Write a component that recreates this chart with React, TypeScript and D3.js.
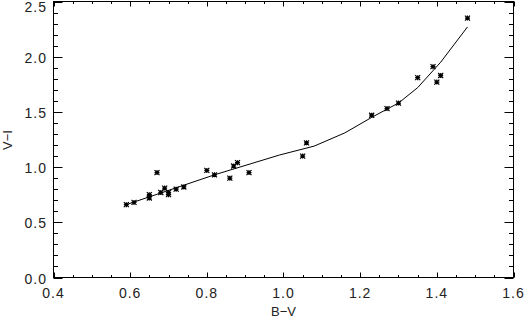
import React, { useEffect, useRef } from "react";
import * as d3 from "d3";

// observed colours (B-V, V-I)
const bv = [0.59, 0.61, 0.65, 0.65, 0.67, 0.68, 0.69, 0.70, 0.70, 0.72, 0.74, 0.80, 0.82, 0.86, 0.87, 0.88, 0.91, 1.05, 1.06, 1.23, 1.27, 1.30, 1.35, 1.39, 1.40, 1.41, 1.48];
const vi = [0.66, 0.68, 0.72, 0.75, 0.95, 0.77, 0.81, 0.75, 0.77, 0.80, 0.82, 0.97, 0.93, 0.90, 1.01, 1.04, 0.95, 1.10, 1.22, 1.47, 1.53, 1.58, 1.81, 1.91, 1.77, 1.83, 2.35];

// relation curve
const fitBV = [0.59, 0.82, 0.99, 1.08, 1.16, 1.23, 1.27, 1.30, 1.35, 1.41, 1.48];
const fitVI = [0.66, 0.93, 1.11, 1.19, 1.31, 1.45, 1.525, 1.58, 1.72, 1.95, 2.27];

const xTicks = [0.4, 0.6, 0.8, 1.0, 1.2, 1.4, 1.6];
const yTicks = [0.0, 0.5, 1.0, 1.5, 2.0, 2.5];

export default function App() {
  const ref = useRef<SVGSVGElement | null>(null);

  useEffect(() => {
    const width = 525;
    const height = 320;
    const left = 53.5, right = 513.5, top = 1.5, bottom = 277.5;
    const svg = d3.select(ref.current);
    svg.selectAll("*").remove();
    svg.attr("width", width).attr("height", height);

    const x = d3.scaleLinear().domain([0.4, 1.6]).range([left, right]);
    const y = d3.scaleLinear().domain([0, 2.5]).range([bottom, top]);

    const font = "'Liberation Sans', Arial, sans-serif";
    const ink = "#000";
    const g = svg.append("g");

    // frame
    g.append("rect")
      .attr("x", left).attr("y", top)
      .attr("width", right - left).attr("height", bottom - top)
      .attr("fill", "none").attr("stroke", ink).attr("stroke-width", 1);

    // x ticks (bottom + top), minor every 0.05
    const xMinor = d3.range(0, 25).map((i) => 0.4 + i * 0.05);
    xMinor.forEach((v, i) => {
      const len = i % 4 === 0 ? 5 : 2.5;
      const px = Math.round(x(v)) + 0.5;
      g.append("line").attr("x1", px).attr("x2", px)
        .attr("y1", bottom).attr("y2", bottom - len).attr("stroke", ink);
      g.append("line").attr("x1", px).attr("x2", px)
        .attr("y1", top).attr("y2", top + len).attr("stroke", ink);
    });
    // y ticks (left + right), minor every 0.1
    const yMinor = d3.range(0, 26).map((i) => i * 0.1);
    yMinor.forEach((v, i) => {
      const len = i % 5 === 0 ? 9 : 4.5;
      const py = Math.round(y(v)) + 0.5;
      g.append("line").attr("y1", py).attr("y2", py)
        .attr("x1", left).attr("x2", left + len).attr("stroke", ink);
      g.append("line").attr("y1", py).attr("y2", py)
        .attr("x1", right).attr("x2", right - len).attr("stroke", ink);
    });

    // tick labels
    g.selectAll(".xl").data(xTicks).enter().append("text")
      .attr("x", (d) => x(d)).attr("y", 298)
      .attr("text-anchor", "middle")
      .style("font-family", font).style("font-size", "14px")
      .style("letter-spacing", "1px").attr("fill", "#222")
      .text((d) => d.toFixed(1));
    g.selectAll(".yl").data(yTicks).enter().append("text")
      .attr("x", 47).attr("y", (d) => Math.max(y(d) + 6, 12))
      .attr("text-anchor", "end")
      .style("font-family", font).style("font-size", "14px")
      .style("letter-spacing", "1px").attr("fill", "#222")
      .text((d) => d.toFixed(1));

    // axis titles
    g.append("text")
      .attr("x", (left + right) / 2).attr("y", 316)
      .attr("text-anchor", "middle")
      .style("font-family", font).style("font-size", "13px")
      .attr("fill", "#222")
      .text("B\u2212V");
    g.append("text")
      .attr("transform", `translate(12,140) rotate(-90)`)
      .attr("text-anchor", "middle")
      .style("font-family", font).style("font-size", "13px")
      .attr("fill", "#222")
      .text("V\u2212I");

    // relation line
    const line = d3.line<number>()
      .x((d, i) => x(fitBV[i]))
      .y((d) => y(d));
    g.append("path")
      .datum(fitVI)
      .attr("d", line)
      .attr("fill", "none").attr("stroke", ink).attr("stroke-width", 1);

    // asterisk markers
    const s = 2.5;
    const star = `M${-s},0H${s}M0,${-s}V${s}M${-s},${-s}L${s},${s}M${-s},${s}L${s},${-s}`;
    g.selectAll(".pt").data(bv).enter().append("path")
      .attr("transform", (d, i) => `translate(${x(d)},${y(vi[i])})`)
      .attr("d", star)
      .attr("fill", "none").attr("stroke", ink).attr("stroke-width", 1.2);
  }, []);

  return (
    <svg ref={ref} style={{ position: "absolute", left: 0, top: 0, background: "#fff" }} />
  );
}
